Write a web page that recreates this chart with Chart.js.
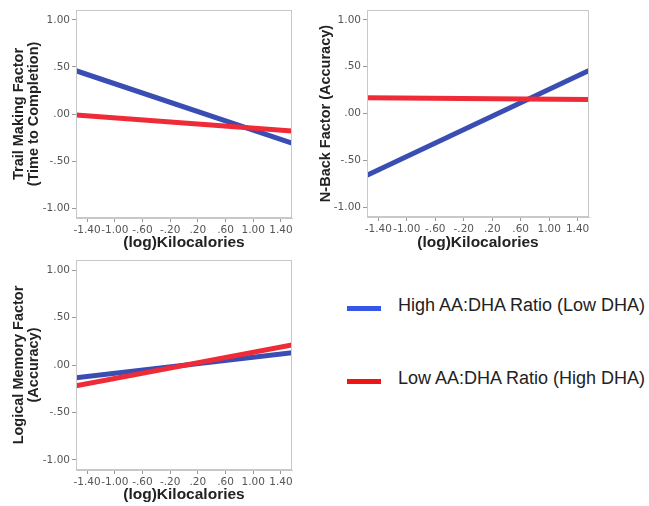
<!DOCTYPE html>
<html>
<head>
<meta charset="utf-8">
<script src="https://cdn.jsdelivr.net/npm/chart.js@4/dist/chart.umd.min.js"></script>
<style>
    body { margin: 0; background: #fff; width: 649px; height: 506px; position: relative; overflow: hidden; }
    .box { position: absolute; }
    .legend { position: absolute; left: 347px; font-family: "Liberation Sans", Arial, sans-serif; font-size: 18px; color: #222; }
    .legend span.sw { position: absolute; left: 0; width: 34px; height: 5px; }
    .legend span.tx { position: absolute; left: 51px; white-space: nowrap; }
</style>
</head>
<body>
<div class="box" style="left:0;top:0;width:300px;height:250px"><canvas id="c1"></canvas></div>
<div class="box" style="left:310px;top:0;width:290px;height:250px"><canvas id="c2"></canvas></div>
<div class="box" style="left:0;top:250px;width:300px;height:256px"><canvas id="c3"></canvas></div>

<div class="legend" style="top:306px"><span class="sw" style="background:#3556e6"></span><span class="tx" style="top:-11px">High AA:DHA Ratio (Low DHA)</span></div>
<div class="legend" style="top:379px"><span class="sw" style="background:#ee1515"></span><span class="tx" style="top:-11px">Low AA:DHA Ratio (High DHA)</span></div>

<script>
// x range of the fitted lines (ends of plot)
var xEnds = [-1.56, 1.56];

var xTicks = [-1.4, -1.0, -0.6, -0.2, 0.2, 0.6, 1.0, 1.4];
var xTickLabels = ['-1.40', '-1.00', '-.60', '-.20', '.20', '.60', '1.00', '1.40'];
var yTicks = [-1, -0.5, 0, 0.5, 1];
var yTickLabels = ['-1.00', '-.50', '.00', '.50', '1.00'];

// values at the two ends, per panel
var trailHigh = [0.46, -0.31];
var trailLow = [-0.01, -0.18];
var nbackHigh = [-0.66, 0.46];
var nbackLow = [0.167, 0.15];
var memoryHigh = [-0.135, 0.13];
var memoryLow = [-0.22, 0.21];

var blue = '#3a4db3';
var red = '#ee2b36';

function pts(vals) {
    return xEnds.map(function (x, i) { return {x: x, y: vals[i]}; });
}

var frame = {
    id: 'frame',
    afterDraw: function (chart) {
        var a = chart.chartArea, ctx = chart.ctx;
        ctx.save();
        ctx.strokeStyle = '#c8c8c8';
        ctx.lineWidth = 1;
        ctx.strokeRect(a.left + 0.5, a.top + 0.5, a.right - a.left - 1, a.bottom - a.top - 1);
        ctx.restore();
    }
};

function makeChart(id, yTitle, high, low, yWidth, yPad, xHeight, xPad, padRight) {
    return new Chart(document.getElementById(id), {
        type: 'scatter',
        data: {
            datasets: [
                {label: 'Low', data: pts(low), showLine: true, borderColor: red, borderWidth: 5, pointRadius: 0, borderCapStyle: 'butt'},
                {label: 'High', data: pts(high), showLine: true, borderColor: blue, borderWidth: 5, pointRadius: 0, borderCapStyle: 'butt'}
            ]
        },
        options: {
            responsive: true,
            maintainAspectRatio: false,
            animation: false,
            clip: 0,
            layout: {padding: {top: 10, right: padRight, left: 0, bottom: 0}},
            plugins: {legend: {display: false}, tooltip: {enabled: false}},
            scales: {
                x: {
                    type: 'linear', min: -1.56, max: 1.56,
                    afterBuildTicks: function (s) { s.ticks = xTicks.map(function (v) { return {value: v}; }); },
                    afterFit: function (s) { s.height = xHeight; },
                    ticks: {
                        autoSkip: false, maxRotation: 0, padding: 2,
                        color: '#555', font: {family: 'DejaVu Sans', size: 10.5},
                        callback: function (v) { return xTickLabels[xTicks.indexOf(v)]; }
                    },
                    grid: {drawOnChartArea: false, tickLength: 4, color: '#999'},
                    border: {color: '#c8c8c8'},
                    title: {display: true, text: '(log)Kilocalories', color: '#222', padding: {top: 0, bottom: xPad},
                        font: {family: 'Liberation Sans', size: 15.5, weight: 'bold', lineHeight: 1}}
                },
                y: {
                    min: -1.106, max: 1.106,
                    afterBuildTicks: function (s) { s.ticks = yTicks.map(function (v) { return {value: v}; }); },
                    afterFit: function (s) { s.width = yWidth; },
                    ticks: {
                        padding: 2, color: '#555', font: {family: 'DejaVu Sans', size: 10.5},
                        callback: function (v) { return yTickLabels[yTicks.indexOf(v)]; }
                    },
                    grid: {drawOnChartArea: false, tickLength: 4, color: '#999'},
                    border: {color: '#c8c8c8'},
                    title: {display: true, text: yTitle, color: '#222', padding: {top: yPad, bottom: 0},
                        font: {family: 'Liberation Sans', size: 14.5, weight: 'bold', lineHeight: 1}}
                }
            }
        },
        plugins: [frame]
    });
}

makeChart('c1', ['Trail Making Factor', '(Time to Completion)'], trailHigh, trailLow, 76, 12, 32, 0, 8);
makeChart('c2', 'N-Back Factor (Accuracy)', nbackHigh, nbackLow, 57, 9, 33, 0, 11);
makeChart('c3', ['Logical Memory Factor', '(Accuracy)'], memoryHigh, memoryLow, 76, 12, 36, 4, 8);
</script>
</body>
</html>
